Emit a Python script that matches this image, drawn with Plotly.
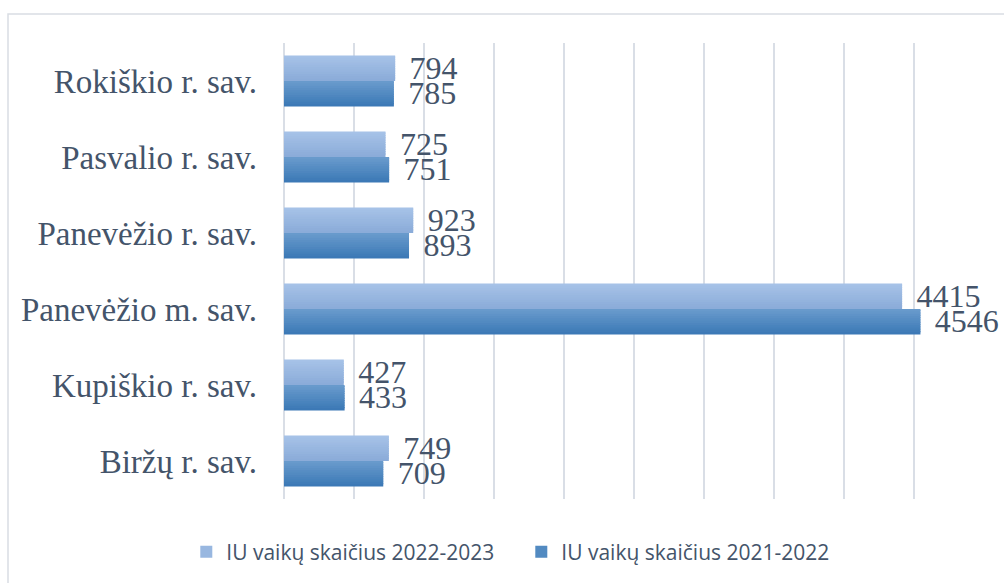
import plotly.graph_objects as go

categories = ["Biržų r. sav.", "Kupiškio r. sav.", "Panevėžio m. sav.",
              "Panevėžio r. sav.", "Pasvalio r. sav.", "Rokiškio r. sav."]
values_2022_2023 = [749, 427, 4415, 923, 725, 794]
values_2021_2022 = [709, 433, 4546, 893, 751, 785]
series_names = ["IU vaikų skaičius 2022-2023", "IU vaikų skaičius 2021-2022"]

TEXT_COLOR = "#44546a"
GRID_COLOR = "#d9dee6"
SERIF = "Liberation Serif, Times New Roman, serif"

# gradient colours (bottom -> top of each bar)
grad = [((0x8b, 0xac, 0xd9), (0xa6, 0xc2, 0xe7)),
        ((0x3c, 0x79, 0xb6), (0x68, 0x9a, 0xcc))]

N = 11
w = 0.335
bases = [0.0, -w]
series_values = [values_2022_2023, values_2021_2022]

fig = go.Figure()
for s in range(2):
    c0, c1 = grad[s]
    for k in range(N):
        t = k / (N - 1)
        col = "rgb(%d,%d,%d)" % tuple(round(c0[i] + (c1[i] - c0[i]) * t) for i in range(3))
        mid = (k == N // 2)
        bw = w / N * (1.6 if k < N - 1 else 1.0)
        fig.add_trace(go.Bar(
            y=categories, x=series_values[s], orientation="h",
            name=series_names[s], legendgroup=series_names[s],
            showlegend=mid,
            marker=dict(color=col, line=dict(width=0)),
            width=bw, offset=bases[s] + k * w / N,
            text=[f"\u00a0\u2009{v}" for v in series_values[s]] if mid else None,
            textposition="outside" if mid else "none",
            constraintext="none", cliponaxis=False,
            textfont=dict(family=SERIF, size=32, color=TEXT_COLOR),
            hoverinfo="skip" if not mid else None,
        ))

fig.update_layout(
    width=1004, height=583,
    barmode="overlay",
    paper_bgcolor="white", plot_bgcolor="white",
    margin=dict(l=284, r=20, t=43, b=83),
    showlegend=True,
    legend=dict(orientation="h", x=0.339, xanchor="center", y=-0.114, yanchor="middle",
                font=dict(family="Open Sans, sans-serif", size=21, color=TEXT_COLOR),
                itemsizing="constant", traceorder="normal", entrywidth=290),
    xaxis=dict(range=[0, 5000], dtick=500, showticklabels=False, showgrid=True,
               gridcolor=GRID_COLOR, gridwidth=1.5, zeroline=True,
               zerolinecolor=GRID_COLOR, zerolinewidth=1.5, showline=False, ticks=""),
    yaxis=dict(type="category", categoryorder="array", categoryarray=categories,
               tickfont=dict(family=SERIF, size=33, color=TEXT_COLOR),
               ticks="", showgrid=False, showline=False, ticklabelstandoff=26),
    shapes=[dict(type="rect", xref="paper", yref="paper",
                 x0=(8 - 284) / 700, x1=(1010 - 284) / 700,
                 y0=(500 - 590) / 457, y1=(500 - 14) / 457,
                 line=dict(color="#d9dde3", width=1.5), fillcolor="rgba(0,0,0,0)",
                 layer="below")],
)

fig.write_html("out.html", config={"displayModeBar": False},
               post_script="document.body.style.margin='0';")
